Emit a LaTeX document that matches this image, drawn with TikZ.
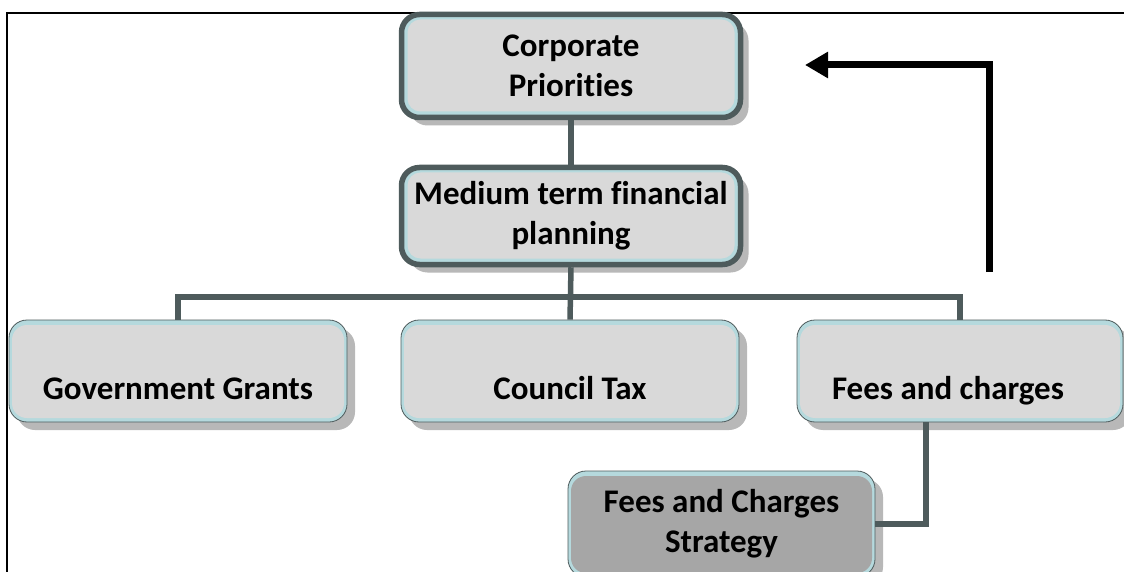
\documentclass[tikz,border=0pt]{standalone}
\usepackage{fontspec}
\setmainfont{Carlito}[Ligatures=NoCommon]
\usetikzlibrary{shadows,arrows.meta,calc}
\definecolor{bord}{HTML}{4E5B5C}
\definecolor{boxfill}{HTML}{D9D9D9}
\definecolor{band}{HTML}{B5D9DD}
\definecolor{stratfill}{HTML}{A6A6A6}
\definecolor{shadowc}{HTML}{B8B8B8}
\tikzset{
  boxbase/.style={inner sep=0pt, align=center,
    font=\fontsize{33}{40}\selectfont\bfseries,
    rounded corners=18pt,
    drop shadow={shadow xshift=8pt, shadow yshift=-8pt, fill=shadowc, opacity=1}},
  topbox/.style={boxbase, draw=bord, line width=5.5pt, fill=band,
    path picture={\fill[boxfill, rounded corners=13pt]
      ([shift={(6pt,-5pt)}]path picture bounding box.north west) rectangle
      ([shift={(-6pt,6pt)}]path picture bounding box.south east);}},
  lowbox/.style={boxbase, draw=bord, line width=0.8pt, fill=band,
    path picture={\fill[#1, rounded corners=15pt]
      ([shift={(3pt,-5pt)}]path picture bounding box.north west) rectangle
      ([shift={(-3pt,4pt)}]path picture bounding box.south east);}},
  rowtext/.style={text height=56pt, text depth=0pt},
  conn/.style={draw=bord, line width=5.5pt},
  bigarrow/.style={draw=black, line width=7pt, -{Triangle[length=23pt,width=25pt]}},
  frameline/.style={draw=black, line width=2.5pt}
}
\begin{document}
\begin{tikzpicture}[x=1pt,y=-1pt]
\useasboundingbox (0,0) rectangle (1124,572);
\begin{scope}
\clip (0,0) rectangle (1124,572);
\fill[white] (0,0) rectangle (1124,572);
\draw[frameline] (1124,13) -- (7,13) -- (7,572);

\node[topbox, minimum width=339pt, minimum height=103pt] (cp) at (571,66) {Corporate\\Priorities};
\node[topbox, minimum width=339pt, minimum height=97pt] (mt) at (571,216) {Medium term financial\\planning};

\node[lowbox=boxfill, rowtext, minimum width=338pt, minimum height=102pt] (gg) at (178,371) {Government Grants};
\node[lowbox=boxfill, rowtext, minimum width=338pt, minimum height=102pt] (ct) at (570,371) {Council Tax};
\node[lowbox=boxfill, rowtext, minimum width=326pt, minimum height=102pt] (fc) at (960,371) {Fees and charges\hspace*{24pt}};
\node[lowbox=stratfill, minimum width=307pt, minimum height=106pt] (fs) at (721.5,524) {Fees and Charges\\Strategy};

\coordinate (bus) at (570,297);
\coordinate (arrS) at (989,272);
\coordinate (arrT) at (805,65);

\draw[conn] (cp.south) -- (mt.north);
\draw[conn] (mt.south) -- (ct.north);
\draw[conn] (gg.north) |- (bus) -| (fc.north);
\draw[conn] ([xshift=-34pt]fc.south) |- (fs.east);
\draw[bigarrow] (arrS) |- (arrT);
\end{scope}
\end{tikzpicture}
\end{document}
